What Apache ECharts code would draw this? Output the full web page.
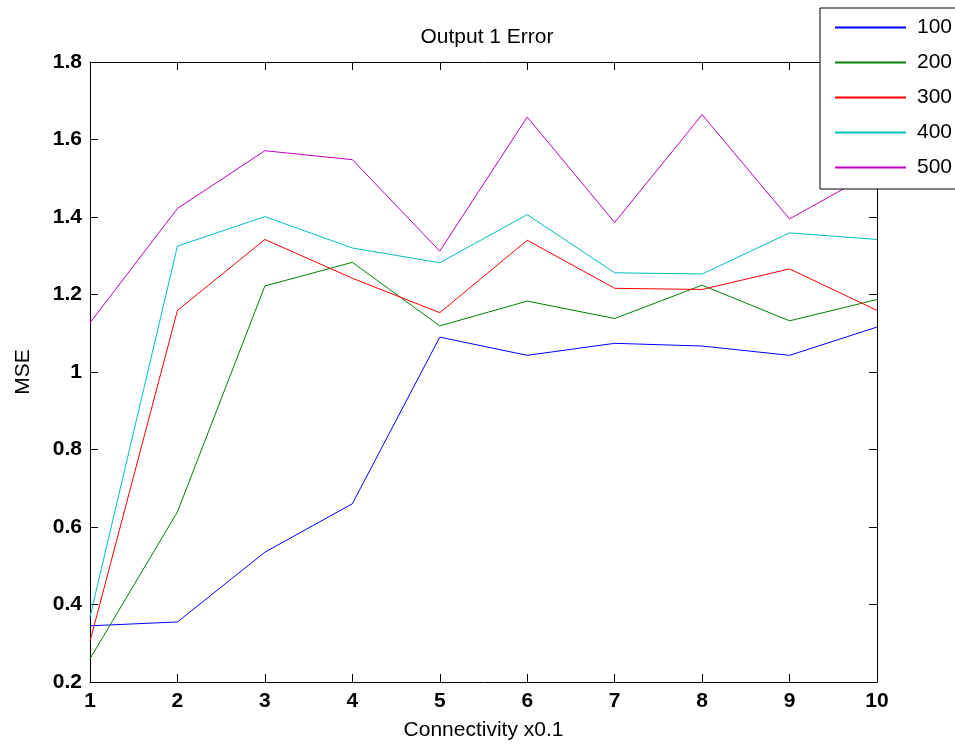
<!DOCTYPE html>
<html>
<head>
<meta charset="utf-8">
<title>Output 1 Error</title>
<script src="https://cdn.jsdelivr.net/npm/echarts@6/dist/echarts.min.js"></script>
<style>
  html, body { margin: 0; padding: 0; background: #fff; }
  #chart { width: 955px; height: 749px; }
</style>
</head>
<body>
<div id="chart"></div>
<script>
// Connectivity steps (x0.1) along the x axis
const connectivity = [1, 2, 3, 4, 5, 6, 7, 8, 9, 10];

// Legend names, one per network size
const seriesNames = ['100', '200', '300', '400', '500'];

// Mean squared error for each network size
const mse100 = [0.345, 0.355, 0.535, 0.660, 1.090, 1.043, 1.074, 1.067, 1.043, 1.116];
const mse200 = [0.260, 0.639, 1.222, 1.283, 1.119, 1.183, 1.138, 1.224, 1.132, 1.187];
const mse300 = [0.305, 1.159, 1.342, 1.242, 1.153, 1.340, 1.216, 1.213, 1.266, 1.159];
const mse400 = [0.368, 1.325, 1.401, 1.320, 1.282, 1.406, 1.256, 1.253, 1.359, 1.342];
const mse500 = [1.127, 1.422, 1.571, 1.548, 1.312, 1.658, 1.386, 1.664, 1.395, 1.521];

// Y axis ticks
const yTicks = [0.2, 0.4, 0.6, 0.8, 1.0, 1.2, 1.4, 1.6, 1.8];

const allValues = [mse100, mse200, mse300, mse400, mse500];
const colors = ['#0000ff', '#008000', '#ff0000', '#00bfbf', '#bf00bf'];

const FONT = '"Liberation Sans", Arial, Helvetica, sans-serif';

const chart = echarts.init(document.getElementById('chart'), null, { renderer: 'canvas' });

const axisLine = { show: true, lineStyle: { color: '#000', width: 1 } };
const tickInside = { show: true, inside: true, length: 8, lineStyle: { color: '#000', width: 1 } };

const series = seriesNames.map((name, i) => ({
  name: name,
  type: 'line',
  xAxisIndex: 0,
  yAxisIndex: 0,
  symbol: 'none',
  data: connectivity.map((c, j) => [c, allValues[i][j]]),
  lineStyle: { color: colors[i], width: 1 },
  itemStyle: { color: colors[i] },
  emphasis: { disabled: true },
  animation: false
}));

chart.setOption({
  backgroundColor: '#ffffff',
  animation: false,
  title: {
    text: 'Output 1 Error',
    left: 482,
    top: 22,
    textAlign: 'center',
    textStyle: { fontFamily: FONT, fontSize: 21, fontWeight: 'normal', color: '#000' }
  },
  grid: { left: 90, right: 78, top: 62, bottom: 67, containLabel: false },
  legend: {
    data: seriesNames.map((n, i) => ({
      name: n,
      icon: 'rect',
      itemStyle: { color: colors[i], borderWidth: 0, opacity: 1 }
    })),
    orient: 'vertical',
    left: 820,
    top: 8,
    padding: [9, 15, 11, 15],
    itemWidth: 71,
    itemHeight: 2,
    itemGap: 14,
    backgroundColor: '#ffffff',
    borderColor: '#000',
    borderWidth: 1,
    borderRadius: 0,
    textStyle: { fontFamily: FONT, fontSize: 21, color: '#000', lineHeight: 20, padding: [0, 0, 0, 6] },
    selectedMode: false
  },
  xAxis: [
    {
      type: 'value',
      min: connectivity[0],
      max: connectivity[connectivity.length - 1],
      interval: 1,
      position: 'bottom',
      name: 'Connectivity x0.1',
      nameLocation: 'middle',
      nameGap: 38,
      nameTextStyle: { fontFamily: FONT, fontSize: 21, color: '#000' },
      axisLine: axisLine,
      axisTick: tickInside,
      axisLabel: { fontFamily: FONT, fontSize: 21, fontWeight: 'bold', color: '#000', margin: 9 },
      splitLine: { show: false }
    },
    {
      type: 'value',
      min: connectivity[0],
      max: connectivity[connectivity.length - 1],
      interval: 1,
      position: 'top',
      axisLine: axisLine,
      axisTick: tickInside,
      axisLabel: { show: false },
      splitLine: { show: false }
    }
  ],
  yAxis: [
    {
      type: 'value',
      min: yTicks[0],
      max: yTicks[yTicks.length - 1],
      interval: 0.2,
      position: 'left',
      name: 'MSE',
      nameLocation: 'middle',
      nameGap: 56,
      nameTextStyle: { fontFamily: FONT, fontSize: 21, color: '#000' },
      axisLine: axisLine,
      axisTick: tickInside,
      axisLabel: {
        fontFamily: FONT, fontSize: 21, fontWeight: 'bold', color: '#000', margin: 8,
        formatter: v => String(+Number(v).toFixed(1))
      },
      splitLine: { show: false }
    },
    {
      type: 'value',
      min: yTicks[0],
      max: yTicks[yTicks.length - 1],
      interval: 0.2,
      position: 'right',
      axisLine: axisLine,
      axisTick: tickInside,
      axisLabel: { show: false },
      splitLine: { show: false }
    }
  ],
  series: series
});
</script>
</body>
</html>
